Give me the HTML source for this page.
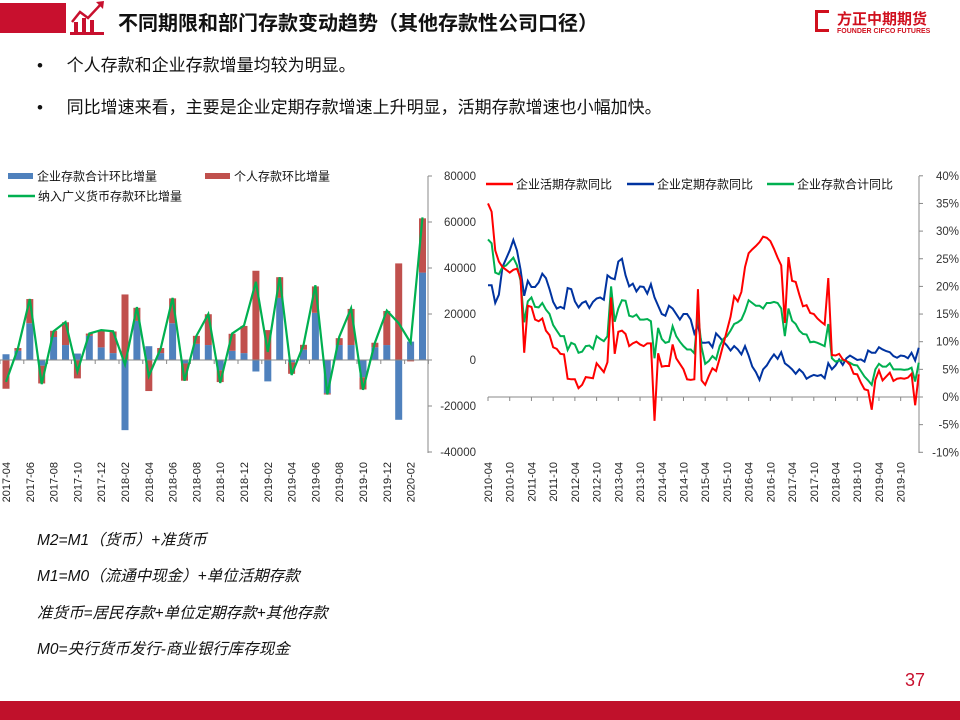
<!DOCTYPE html>
<html><head><meta charset="utf-8">
<style>
body{margin:0;width:960px;height:720px;overflow:hidden;background:#fff;font-family:"Liberation Sans","Noto Sans CJK SC",sans-serif;position:relative}
.abs{position:absolute;white-space:nowrap}
</style></head><body>
<div class="abs" style="left:0;top:3px;width:66px;height:30px;background:#c8102e"></div>
<svg class="abs" style="left:68px;top:0" width="40" height="36"><polyline points="4,22 12,12 20,18 34,3" fill="none" stroke="#c8102e" stroke-width="2.5"/><polygon points="28,2 36,1 35,9" fill="#c8102e"/><rect x="6" y="22" width="4" height="10" fill="#c8102e"/><rect x="14" y="18" width="4" height="14" fill="#c8102e"/><rect x="22" y="20" width="4" height="12" fill="#c8102e"/><rect x="2" y="32" width="34" height="3" fill="#c8102e"/></svg>
<div class="abs" style="left:118px;top:7px;font-size:20px;font-weight:bold;color:#111">不同期限和部门存款变动趋势（其他存款性公司口径）</div>
<div class="abs" style="left:815px;top:8px;width:135px;height:30px">
<div class="abs" style="left:0;top:2px;width:14px;height:22px;border:3px solid #d0101e;border-right:none;box-sizing:border-box"></div>
<div class="abs" style="left:22px;top:0;font-size:15px;font-weight:bold;color:#d0101e">方正中期期货</div>
<div class="abs" style="left:22px;top:20px;font-size:7px;font-weight:bold;color:#d0101e">FOUNDER CIFCO FUTURES</div></div>
<div class="abs" style="left:37px;top:51px;font-size:17px;color:#111">•&nbsp;&nbsp;&nbsp;&nbsp;&nbsp;个人存款和企业存款增量均较为明显。</div>
<div class="abs" style="left:37px;top:93px;font-size:17px;color:#111">•&nbsp;&nbsp;&nbsp;&nbsp;&nbsp;同比增速来看，主要是企业定期存款增速上升明显，活期存款增速也小幅加快。</div>
<svg class="abs" id="chart" style="left:0;top:0" width="960" height="520"></svg>
<div class="abs" style="left:37px;top:528px;font-size:15.5px;font-style:italic;color:#111">M2=M1（货币）+准货币</div>
<div class="abs" style="left:37px;top:564px;font-size:15.5px;font-style:italic;color:#111">M1=M0（流通中现金）+单位活期存款</div>
<div class="abs" style="left:37px;top:601px;font-size:15.5px;font-style:italic;color:#111">准货币=居民存款+单位定期存款+其他存款</div>
<div class="abs" style="left:37px;top:637px;font-size:15.5px;font-style:italic;color:#111">M0=央行货币发行-商业银行库存现金</div>
<div class="abs" style="left:905px;top:670px;font-size:18px;color:#c8102e">37</div>
<div class="abs" style="left:0;top:701px;width:960px;height:19px;background:#c0112b"></div>
<script>
// Left chart data
const leftMonths=["2017-04","2017-05","2017-06","2017-07","2017-08","2017-09","2017-10","2017-11","2017-12","2018-01","2018-02","2018-03","2018-04","2018-05","2018-06","2018-07","2018-08","2018-09","2018-10","2018-11","2018-12","2019-01","2019-02","2019-03","2019-04","2019-05","2019-06","2019-07","2019-08","2019-09","2019-10","2019-11","2019-12","2020-01","2020-02","2020-03"];
const corpMoM=[2500,4000,16000,-2500,10000,6500,2800,10500,5500,3000,-30500,17000,6000,3000,16000,-1500,7000,6500,-4500,4000,3000,-5000,-9300,27000,-1000,4500,20500,-14500,6500,6500,-7500,5500,6500,-26000,8000,38000];
const personalMoM=[-12500,1200,10500,-7700,2700,9900,-8000,1000,7500,9400,28500,5700,-13500,2200,10800,-7500,3500,13400,-5100,7400,11800,38800,13000,9000,-5000,2100,11500,-500,3000,15700,-5300,2000,14800,42000,-600,23600];
const m2MoM=[-9500,5000,26500,-10500,12500,16500,-5000,11500,13000,12500,-2000,23000,-7000,5000,27000,-9000,10500,20000,-10000,11500,15000,34000,3500,36000,-6500,6500,32500,-15000,10000,22500,-13000,7500,21500,16000,7500,62000];
const leftTicks=[80000,60000,40000,20000,0,-20000,-40000];
// Right chart data (2010-04 .. 2020-03)
const demandYoY=[35,33.5,26.5,24.5,23.5,23,22.5,23,23.2,21.5,8,16.5,16.3,14,13.7,14.2,12,11.2,9,8.7,7.8,7.7,3.3,3.2,3.2,1.6,2.2,3.6,3.5,3.4,6.1,5.3,4.5,6.3,18,7.8,11.8,12,11.4,9.2,9.7,10,9.5,9.2,9.7,9.7,-4.3,7.9,5.5,5.6,5.6,9.5,7,6,5,3.2,3.1,3.2,19.5,3,2.2,3.8,5.2,4.7,7,9.5,12,14.5,18.2,17.3,19,23.5,26,26.7,27.3,28,29,28.8,28.2,26.8,25.2,23.8,13.4,25.3,21,20.8,18.5,16.4,16.6,15.2,15,14.2,13.6,13.1,21.5,7.6,7.5,7.8,6.8,6.5,5.8,4.2,4.1,2.6,1.4,1.2,-2.3,3.1,4.8,3,3.7,4.4,2.9,3.3,3.4,3.3,3.5,4.2,-1.5,4.1];
const timeYoY=[20.2,20.2,17,18.5,23.5,25,26.5,28.4,26.5,23,18.3,21,19.9,19.9,20.7,22.3,21.5,19.5,17.2,16,16.3,16,19.7,19.5,17.3,16.2,17,17.3,16.1,17.2,17.8,18,17.6,22,21.5,21.3,24.5,25,22,20,20.5,19.1,20,19.9,18.7,20.4,18,16.5,15,14.7,16.5,16,15,14,15,15,14,11.5,13,9.8,9.8,9.9,9,11.5,10.8,10,9.3,8.4,9.2,8.6,7.7,9.2,7.5,5.5,4.5,3.1,5,5.7,6.8,7.7,6.9,8.1,6.1,5.6,5,4.2,5,4.4,3.3,3.7,4,3.8,4,3.4,6.1,5,5.7,6.8,5.8,7,7.5,7.1,6.7,6.8,6.4,8.4,8,8,9,8.6,8.3,8.1,7.4,7.1,7.5,7.4,7,8,6.6,8.9];
const totalYoY=[28.5,27.8,22.5,22.2,23.5,23.8,24.5,25.2,23.8,21,13.5,17.3,18,16.3,16.2,17,15.8,15,13,12,11,11,8.5,9.8,9.5,8,8.2,9.2,9.3,8.7,11,10.5,10.1,11,20,13.6,16,17.5,17.4,14.7,14.5,14.9,14,14,14.1,13.7,7,12.5,10.5,9.8,10,12.8,11,10,9.2,8.6,8.6,7.9,15.3,9,6,6.5,7.4,6.8,9.2,10.5,11,12,13.2,13.5,14,15.5,17.5,17,16.5,16.5,16,17,17,17.2,17,16,11,16,13.8,13.2,12,11.4,11.3,9.9,10,9.8,9.5,9.2,13.2,7,6.4,6.6,6.6,6.5,6.2,5.8,5.7,4.7,3.7,3,2.2,5,6,5.5,5.5,6.1,5,5,5,4.9,5,5.3,2.8,6.2];
const rightTicks=[40,35,30,25,20,15,10,5,0,-5,-10];
const rightLabels=["2010-04","2010-10","2011-04","2011-10","2012-04","2012-10","2013-04","2013-10","2014-04","2014-10","2015-04","2015-10","2016-04","2016-10","2017-04","2017-10","2018-04","2018-10","2019-04","2019-10"];

const NS="http://www.w3.org/2000/svg";
const svg=document.getElementById('chart');
function mk(tag,attrs,parent){const e=document.createElementNS(NS,tag);for(const k in attrs)e.setAttribute(k,attrs[k]);(parent||svg).appendChild(e);return e;}
const FONT='"Liberation Sans","Noto Sans CJK SC",sans-serif';

// ---- Left chart ----
const lx=i=>6+i*11.9;
const ly=v=>360-v*(92/40000);
const gL=mk('g',{});


let ax=mk('line',{x1:428,y1:176,x2:428,y2:453,stroke:'#888','stroke-width':1},gL);


leftTicks.forEach(t=>{
  mk('line',{x1:428,x2:432,y1:ly(t),y2:ly(t),stroke:'#888'},gL);
  const tx=mk('text',{x:476,y:ly(t)+4,'text-anchor':'end','font-size':11.5,fill:'#333','font-family':FONT},gL);
  tx.textContent=t;
  
  
});
leftMonths.forEach((m,i)=>{
  const c=corpMoM[i],p=personalMoM[i];
  const b=mk('rect',{x:lx(i)-3.5,width:7,y:Math.min(ly(0),ly(c)),height:Math.abs(ly(c)-ly(0)),fill:'#4f81bd'},gL);
  
  
  let base=(p>=0)===(c>=0)?c:0;
  const r=mk('rect',{x:lx(i)-3.5,width:7,y:Math.min(ly(base),ly(base+p)),height:Math.abs(ly(base+p)-ly(base)),fill:'#c0504d'},gL);
  
  
  if(i%2===0){
    const t=mk('text',{transform:`translate(${lx(i)+4},462) rotate(-90)`,'text-anchor':'end','font-size':11,fill:'#222','font-family':FONT},gL);
    t.textContent=m;
    
    
  }
});
let xa=mk('line',{x1:0,x2:428,y1:360,y2:360,stroke:'#888'},gL);


for(let i=0;i<=36;i+=2){mk('line',{x1:lx(i)-6,x2:lx(i)-6,y1:360,y2:364,stroke:'#888'},gL);}
const gl=mk('polyline',{points:m2MoM.map((v,i)=>lx(i)+','+ly(v)).join(' '),fill:'none',stroke:'#00b050','stroke-width':2.2},gL);


function legend(parent,x,y,type,color,label,name){
  const g=mk('g',{},parent);
  
  
  if(type==='rect')mk('rect',{x:x,y:y-3,width:25,height:6,fill:color},g);
  else mk('line',{x1:x,x2:x+27,y1:y,y2:y,stroke:color,'stroke-width':2.5},g);
  const t=mk('text',{x:x+(type==='rect'?29:30),y:y+4.5,'font-size':12,fill:'#111','font-family':FONT},g);
  t.textContent=label;
}
legend(gL,8,176,'rect','#4f81bd','企业存款合计环比增量','legend-corporate');
legend(gL,205,176,'rect','#c0504d','个人存款环比增量','legend-personal');
legend(gL,8,196,'line','#00b050','纳入广义货币存款环比增量','legend-m2');

// ---- Right chart ----
const rx=i=>488+i*3.62;
const ry=v=>397-v*5.53;
const gR=mk('g',{});


let rax=mk('line',{x1:919,y1:176,x2:919,y2:453,stroke:'#888'},gR);


rightTicks.forEach(t=>{
  mk('line',{x1:919,x2:923,y1:ry(t),y2:ry(t),stroke:'#888'},gR);
  const tx=mk('text',{x:959,y:ry(t)+4,'text-anchor':'end','font-size':11.5,fill:'#333','font-family':FONT},gR);
  tx.textContent=t+'%';
  
  
});
let rxa=mk('line',{x1:488,x2:919,y1:397,y2:397,stroke:'#888'},gR);


rightLabels.forEach((l,k)=>{
  const i=k*6;
  mk('line',{x1:rx(i),x2:rx(i),y1:397,y2:401,stroke:'#888'},gR);
  const t=mk('text',{transform:`translate(${rx(i)+4},462) rotate(-90)`,'text-anchor':'end','font-size':11,fill:'#222','font-family':FONT},gR);
  t.textContent=l;
  
  
});
function series(arr,color,name){
  const p=mk('polyline',{points:arr.map((v,i)=>rx(i)+','+ry(v)).join(' '),fill:'none',stroke:color,'stroke-width':2},gR);
  
  
}
series(timeYoY,'#0033a0','line-time-deposit-yoy');
series(totalYoY,'#00b050','line-total-deposit-yoy');
series(demandYoY,'#ff0000','line-demand-deposit-yoy');
legend(gR,486,184,'line','#ff0000','企业活期存款同比','legend-demand');
legend(gR,627,184,'line','#0033a0','企业定期存款同比','legend-time');
legend(gR,767,184,'line','#00b050','企业存款合计同比','legend-total');
</script>
</body></html>
